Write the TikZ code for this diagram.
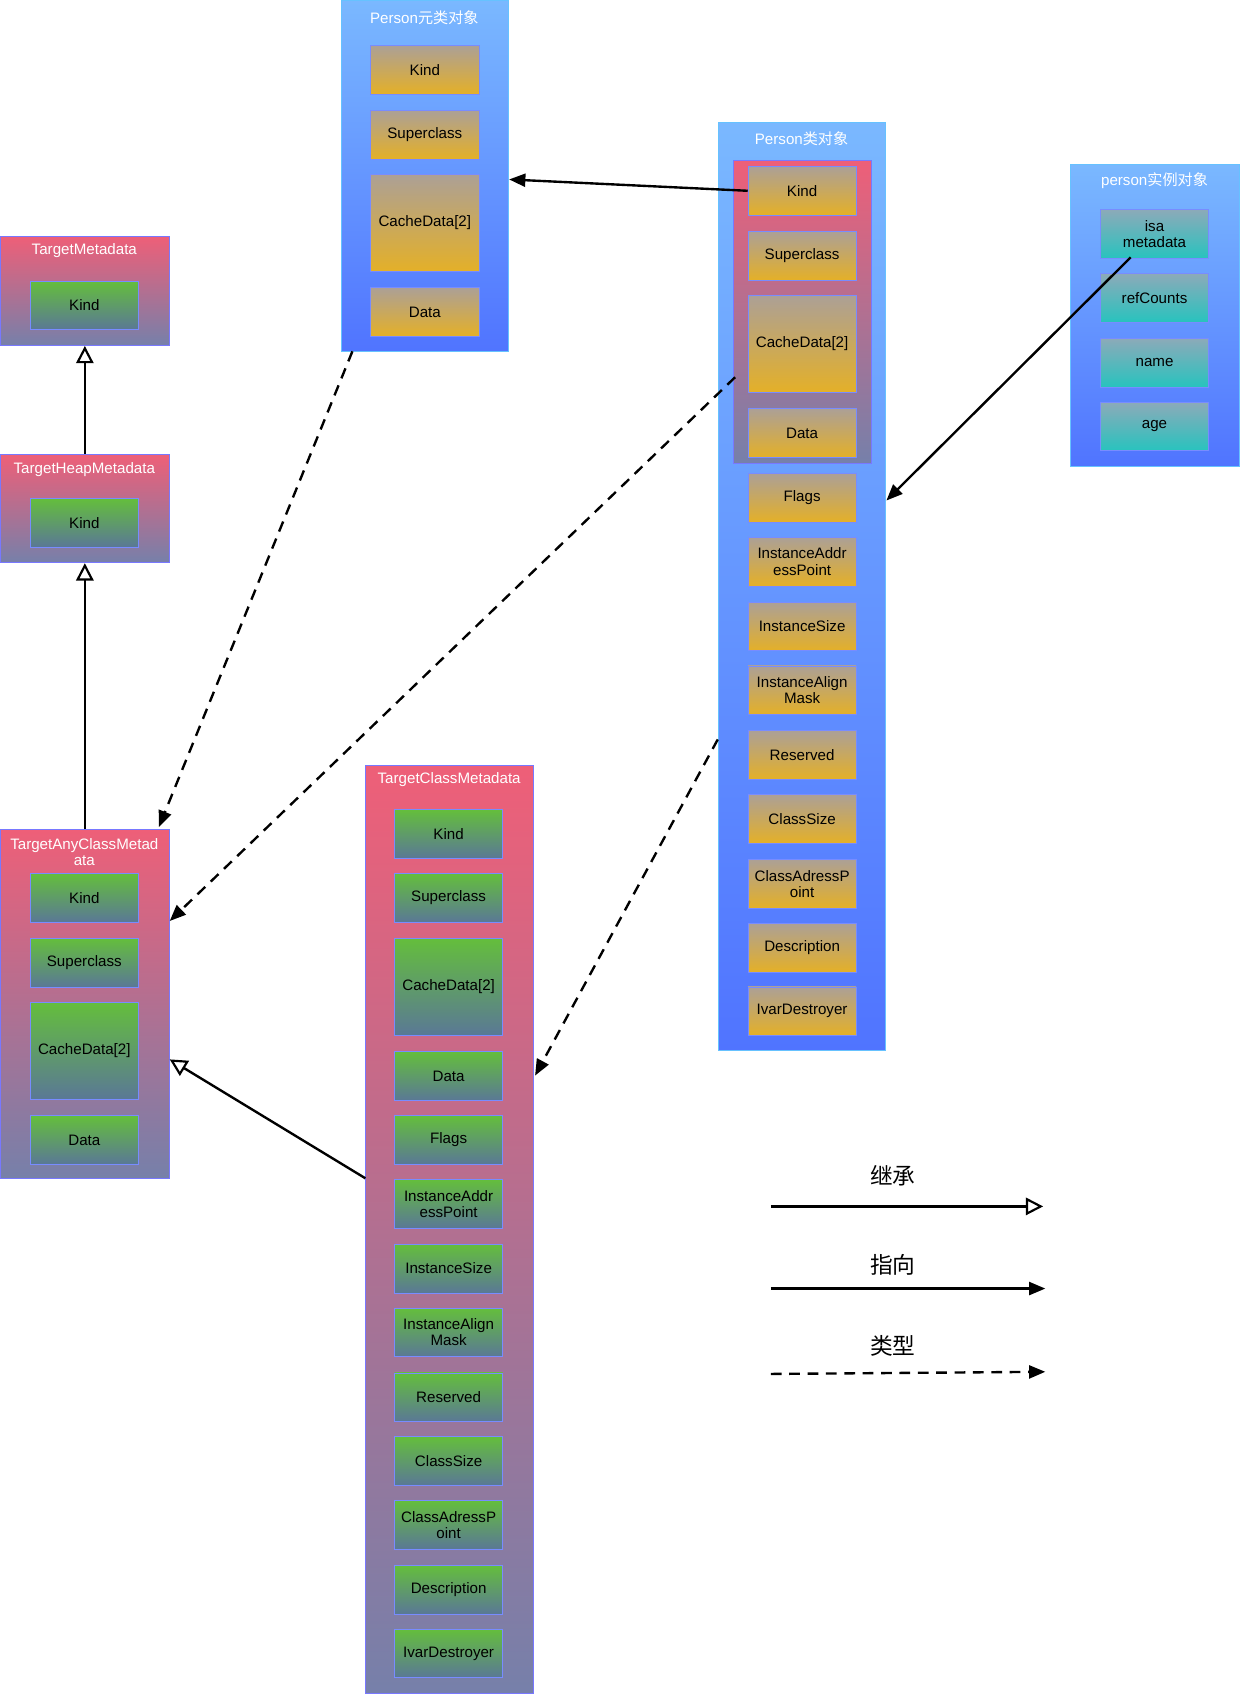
\documentclass[tikz,border=0pt]{standalone}
\usepackage{fontspec}
\setmainfont{Liberation Sans}
\newfontfamily\cjk{Noto Sans CJK SC}
\usetikzlibrary{arrows.meta}
\begin{document}
\begin{tikzpicture}[x=1pt,y=-1pt,font=\fontsize{14}{15}\selectfont,
  bluebox/.style={draw=blue!40!cyan!60, line width=1pt, top color={rgb,255:red,122;green,184;blue,255}, bottom color={rgb,255:red,80;green,116;blue,255}},
  redbox/.style={draw={rgb,255:red,120;green,120;blue,255}, line width=1pt, top color={rgb,255:red,238;green,95;blue,120}, bottom color={rgb,255:red,118;green,128;blue,170}},
  orangecell/.style={draw={rgb,255:red,120;green,140;blue,255}, line width=0.6pt, top color={rgb,255:red,172;green,160;blue,150}, bottom color={rgb,255:red,228;green,176;blue,40}, minimum width=100, align=center, inner sep=1pt},
  greencell/.style={draw={rgb,255:red,120;green,140;blue,255}, line width=0.6pt, top color={rgb,255:red,100;green,190;blue,60}, bottom color={rgb,255:red,90;green,120;blue,150}, minimum width=100, align=center, inner sep=1pt},
  tealcell/.style={draw={rgb,255:red,120;green,140;blue,255}, line width=0.6pt, top color={rgb,255:red,140;green,170;blue,185}, bottom color={rgb,255:red,40;green,195;blue,190}, minimum width=100, align=center, inner sep=1pt},
  ttl/.style={text=white, align=center},
  inh/.style={line width=2.2pt, -{Triangle[open,length=16pt,width=16pt,line width=2pt]}},
  pt/.style={line width=2.2pt, -{Triangle[length=15pt,width=12pt]}},
  typ/.style={line width=2.2pt, dash pattern=on 10pt off 7pt, -{Triangle[length=15pt,width=12pt]}}]
\useasboundingbox (0,0) rectangle (1148,1568);
% containers
\node[redbox, minimum width=156, minimum height=101, anchor=north west] (tm) at (0,218) {};
\node[ttl] at (78,232) {TargetMetadata};
\node[greencell, minimum height=45] (tmk) at (78,282.5) {Kind};
\node[redbox, minimum width=156, minimum height=100, anchor=north west] (thm) at (0,420) {};
\node[ttl] at (78,434) {TargetHeapMetadata};
\node[greencell, minimum height=45] (thmk) at (78,483.5) {Kind};
\node[redbox, minimum width=156, minimum height=323, anchor=north west] (tac) at (0,767) {};
\node[ttl] at (78,788) {TargetAnyClassMetad\\ata};
\node[greencell, minimum height=45] (tac1) at (78,830.5) {Kind};
\node[greencell, minimum height=45] (tac2) at (78,890.5) {Superclass};
\node[greencell, minimum height=90] (tac3) at (78,972) {CacheData[2]};
\node[greencell, minimum height=45] (tac4) at (78,1054.5) {Data};
% Person meta
\node[bluebox, minimum width=155, minimum height=325, anchor=north west] (meta) at (315,0) {};
\node[ttl] at (392.5,16) {Person{\cjk 元类对象}};
\node[orangecell, minimum height=45] (m1) at (393,64.5) {Kind};
\node[orangecell, minimum height=45] (m2) at (393,124.5) {Superclass};
\node[orangecell, minimum height=90] (m3) at (393,206) {CacheData[2]};
\node[orangecell, minimum height=45] (m4) at (393,288.5) {Data};
% Person class
\node[bluebox, minimum width=155, minimum height=858, anchor=north west] (pc) at (664,113) {};
\node[ttl] at (741.5,128) {Person{\cjk 类对象}};
\node[redbox, minimum width=128, minimum height=280, anchor=north west] (pcin) at (678,148) {};
\foreach \n/\t/\y/\h in {p1/Kind/176.5/45, p2/Superclass/236.5/45, p3/CacheData[2]/318/90, p4/Data/400.5/45, p5/Flags/460.5/45, p6/{InstanceAddr\\essPoint}/519.5/45, p7/InstanceSize/579.5/45, p8/{InstanceAlign\\Mask}/638.5/45, p9/Reserved/698.5/45, p10/ClassSize/757.5/45, p11/{ClassAdressP\\oint}/817.5/45, p12/Description/876.5/45, p13/IvarDestroyer/935.5/45}
  \node[orangecell, minimum height=\h] (\n) at (742,\y) {\t};
% instance
\node[bluebox, minimum width=156, minimum height=279, anchor=north west] (inst) at (990,152) {};
\node[ttl] at (1068,167) {person{\cjk 实例对象}};
\node[tealcell, minimum height=45] (i1) at (1068,216.5) {isa\\metadata};
\node[tealcell, minimum height=45] (i2) at (1068,275.5) {refCounts};
\node[tealcell, minimum height=45] (i3) at (1068,335.5) {name};
\node[tealcell, minimum height=45] (i4) at (1068,394.5) {age};
% TargetClassMetadata
\node[redbox, minimum width=155, minimum height=858, anchor=north west] (tcm) at (338,708) {};
\node[ttl] at (415.5,721) {TargetClassMetadata};
\foreach \n/\t/\y/\h in {c1/Kind/771.5/45, c2/Superclass/830.5/45, c3/CacheData[2]/913/90, c4/Data/995.5/45, c5/Flags/1054.5/45, c6/{InstanceAddr\\essPoint}/1113.5/45, c7/InstanceSize/1173.5/45, c8/{InstanceAlign\\Mask}/1232.5/45, c9/Reserved/1292.5/45, c10/ClassSize/1351.5/45, c11/{ClassAdressP\\oint}/1410.5/45, c12/Description/1470.5/45, c13/IvarDestroyer/1529.5/45}
  \node[greencell, minimum height=\h] (\n) at (415,\y) {\t};
% arrows
\draw[inh] (thm.north) -- (tm.south);
\draw[inh] (tac.north) -- (thm.south);
\draw[inh] (tcm.west |- 0,1090) -- (157,980);
\draw[pt] (p1.west) -- (meta.east |- 0,166);
\draw[pt] (1046,238) -- (pc.east |- 0,463);
\draw[typ] (326,325) -- (147,765);
\draw[typ] (680,349) -- (157,852);
\draw[typ] (664,684) -- (495,995);
% legend
\coordinate (l1a) at (713,1116); \coordinate (l1b) at (965,1116);
\coordinate (l2a) at (713,1192); \coordinate (l2b) at (967,1192);
\coordinate (l3a) at (713,1271); \coordinate (l3b) at (967,1269);
\node[font=\cjk\fontsize{21}{24}\selectfont] at (826,1088) {继承};
\node[font=\cjk\fontsize{21}{24}\selectfont] at (826,1170) {指向};
\node[font=\cjk\fontsize{21}{24}\selectfont] at (826,1245) {类型};
\draw[inh] (l1a) -- (l1b);
\draw[pt] (l2a) -- (l2b);
\draw[typ] (l3a) -- (l3b);
\end{tikzpicture}
\end{document}
